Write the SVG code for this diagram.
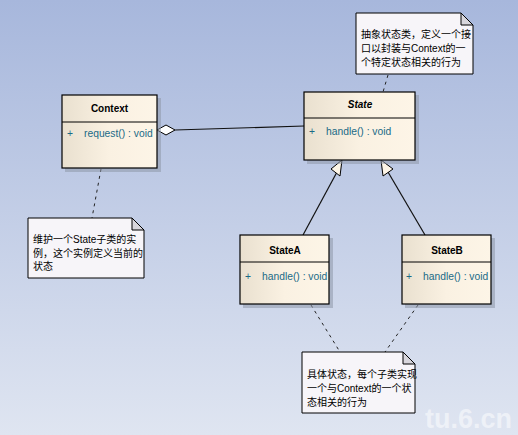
<svg xmlns="http://www.w3.org/2000/svg" width="518" height="435" viewBox="0 0 518 435">
<defs>
<linearGradient id="bg" x1="0" y1="0" x2="0" y2="1">
<stop offset="0" stop-color="#a7b7dc"/>
<stop offset="1" stop-color="#dfe5f1"/>
</linearGradient>
<linearGradient id="cls" x1="0" y1="0" x2="1" y2="0">
<stop offset="0" stop-color="#e9e0cf"/>
<stop offset="0.5" stop-color="#faf1e2"/>
<stop offset="1" stop-color="#fdf5e7"/>
</linearGradient>
<clipPath id="clipA"><rect x="240" y="235" width="88.5" height="69"/></clipPath>
<clipPath id="clipB"><rect x="402" y="235" width="88.5" height="69"/></clipPath>
<style>
.box{fill:url(#cls);stroke:#000;stroke-width:1.2}
.shadow{fill:#8e97a8;opacity:0.55}
.title{font-family:"Liberation Sans",Arial,sans-serif;font-size:10px;font-weight:bold;fill:#000;text-anchor:middle}
.op{font-family:"Liberation Sans",Arial,sans-serif;font-size:10.3px;fill:#1a6a86}
.note{fill:#f7f5f9;stroke:#000;stroke-width:1}
.fold{fill:#d8d6dc;stroke:#000;stroke-width:1}
.nt{font-family:"Liberation Sans","Noto Sans CJK SC",sans-serif;font-size:10px;fill:#000}
.dash{stroke:#222;stroke-width:1;stroke-dasharray:3,4;fill:none}
.line{stroke:#111;stroke-width:1.2;fill:none}
</style>
</defs>
<rect x="0" y="0" width="518" height="435" fill="url(#bg)"/>

<g id="connectors">
<line class="line" x1="175" y1="130" x2="304" y2="126"/>
<polygon points="157,130 166,125 175,130 166,135" fill="#fff" stroke="#000" stroke-width="1"/>
<line class="line" x1="303" y1="235" x2="337" y2="172"/>
<polygon points="342,160 331,169 340,176" fill="#fdf5e7" stroke="#000" stroke-width="1"/>
<line class="line" x1="425" y1="235" x2="388" y2="172"/>
<polygon points="381,160 383,176 393,169" fill="#fdf5e7" stroke="#000" stroke-width="1"/>
<line class="dash" x1="101" y1="169" x2="92" y2="218"/>
<line class="dash" x1="388" y1="75" x2="383" y2="92"/>
<line class="dash" x1="311" y1="305" x2="340" y2="352"/>
<line class="dash" x1="418" y1="305" x2="385" y2="352"/>
</g>

<g id="Context">
<rect class="shadow" x="65" y="98" width="96" height="74"/>
<rect class="box" x="62" y="95" width="95" height="73"/>
<line x1="62" y1="122" x2="157" y2="122" stroke="#000" stroke-width="1"/>
<text class="title" x="109.5" y="112">Context</text>
<text class="op" x="67" y="137">+</text>
<text class="op" x="84" y="137">request() : void</text>
</g>

<g id="State">
<rect class="shadow" x="307" y="95" width="112" height="69"/>
<rect class="box" x="304" y="92" width="111" height="68"/>
<line x1="304" y1="118" x2="415" y2="118" stroke="#000" stroke-width="1"/>
<text class="title" x="360" y="108" font-style="italic">State</text>
<text class="op" x="309" y="135">+</text>
<text class="op" x="326" y="135">handle() : void</text>
</g>

<g id="StateA">
<rect class="shadow" x="243" y="238" width="90" height="70"/>
<rect class="box" x="240" y="235" width="89" height="69"/>
<line x1="240" y1="262" x2="329" y2="262" stroke="#000" stroke-width="1"/>
<text class="title" x="285" y="254">StateA</text>
<g clip-path="url(#clipA)">
<text class="op" x="245" y="280">+</text>
<text class="op" x="262" y="280">handle() : void</text>
</g>
</g>

<g id="StateB">
<rect class="shadow" x="405" y="238" width="90" height="70"/>
<rect class="box" x="402" y="235" width="89" height="69"/>
<line x1="402" y1="262" x2="491" y2="262" stroke="#000" stroke-width="1"/>
<text class="title" x="447" y="254">StateB</text>
<g clip-path="url(#clipB)">
<text class="op" x="406" y="280">+</text>
<text class="op" x="423" y="280">handle() : void</text>
</g>
</g>

<g id="noteTop">
<path class="note" d="M356,13 H461 L473,25 V74 H356 Z"/>
<path class="fold" d="M461,13 V25 H473 Z"/>
<text class="nt" x="361" y="38">抽象状态类，定义一个接</text>
<text class="nt" x="361" y="52">口以封装与Context的一</text>
<text class="nt" x="361" y="66">个特定状态相关的行为</text>
</g>

<g id="noteLeft">
<path class="note" d="M28,218 H132 L144,230 V278 H28 Z"/>
<path class="fold" d="M132,218 V230 H144 Z"/>
<text class="nt" x="33" y="243">维护一个State子类的实</text>
<text class="nt" x="33" y="257">例，这个实例定义当前的</text>
<text class="nt" x="33" y="270">状态</text>
</g>

<g id="noteBottom">
<path class="note" d="M302,352 H403 L415,364 V413 H302 Z"/>
<path class="fold" d="M403,352 V364 H415 Z"/>
<text class="nt" x="307" y="378">具体状态，每个子类实现</text>
<text class="nt" x="307" y="392">一个与Context的一个状</text>
<text class="nt" x="307" y="406">态相关的行为</text>
</g>

<text x="512" y="428" text-anchor="end" font-family="'Liberation Sans',Arial,sans-serif" font-size="27" font-weight="bold" fill="#ffffff" fill-opacity="0.5">tu.6.cn</text>
</svg>
